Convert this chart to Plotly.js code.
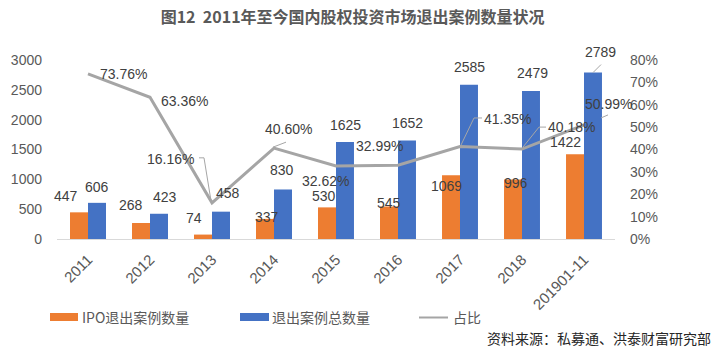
<!DOCTYPE html>
<html>
<head>
<meta charset="utf-8">
<script src="https://cdn.plot.ly/plotly-3.0.1.min.js"></script>
<style>html,body{margin:0;padding:0;background:#fff;}#chart{width:721px;height:348px;}</style>
</head>
<body>
<div id="chart"></div>
<script>
// ---- data ----
const categories = ['2011','2012','2013','2014','2015','2016','2017','2018','201901-11'];
const ipoExits   = [447, 268, 74, 337, 530, 545, 1069, 996, 1422];
const totalExits = [606, 423, 458, 830, 1625, 1652, 2585, 2479, 2789];
const ratio      = [0.7376, 0.6336, 0.1616, 0.4060, 0.3262, 0.3299, 0.4135, 0.4018, 0.5099];
const seriesNames = ['IPO退出案例数量', '退出案例总数量', '占比'];
const titleText = '图12  2011年至今国内股权投资市场退出案例数量状况';
const sourceText = '资料来源：私募通、洪泰财富研究部';

// ---- label placement (pixel offsets from each mark, styling only) ----
const ipoLabelShift   = [[-22,16],[-19,18],[-18,17],[-7,2],[-12,11],[-9,3],[-14,-11],[-6,-3],[-19,12]];
const totalLabelShift = [[9,16],[15,17],[16,19],[8,19],[9,17],[9,17],[9,18],[10,18],[16,21]];
const ratioLabelShift = [[35,0],[34,-4],[-42,44],[14,19],[-11,-15],[-19,19],[47,27],[49,22],[24,21]];

const ORANGE = '#ED7D31', BLUE = '#4472C4', GRAY = '#A5A5A5';
const TXT = '#595959', LBL = '#404040';
const FONT = 'Liberation Sans, Noto Sans CJK SC, sans-serif';
const CJK = 'Noto Sans CJK SC, Liberation Sans, sans-serif';

const W = 721, H = 348, L = 57, R = 106, T = 60, B = 109;
const pw = W - L - R, ph = H - T - B;
const px = x => (x - L) / pw;
const py = y => (H - B - y) / ph;

const traces = [
  {type:'bar', name:seriesNames[0], x:categories, y:ipoExits, marker:{color:ORANGE}, hoverinfo:'skip'},
  {type:'bar', name:seriesNames[1], x:categories, y:totalExits, marker:{color:BLUE}, hoverinfo:'skip'},
  {type:'scatter', mode:'lines', name:seriesNames[2], x:categories, y:ratio, yaxis:'y2',
   line:{color:GRAY, width:3}, hoverinfo:'skip'}
];

const annotations = [];
const lblFont = {family:FONT, size:14, color:LBL};
categories.forEach((c,i)=>{
  annotations.push({x:i, y:ipoExits[i], xref:'x', yref:'y', text:String(ipoExits[i]), showarrow:false,
    xshift:ipoLabelShift[i][0], yshift:ipoLabelShift[i][1], font:lblFont, xanchor:'center', yanchor:'middle'});
  annotations.push({x:i, y:totalExits[i], xref:'x', yref:'y', text:String(totalExits[i]), showarrow:false,
    xshift:totalLabelShift[i][0], yshift:totalLabelShift[i][1], font:lblFont, xanchor:'center', yanchor:'middle'});
  annotations.push({x:i, y:ratio[i], xref:'x', yref:'y2', text:(ratio[i]*100).toFixed(2)+'%', showarrow:false,
    xshift:ratioLabelShift[i][0], yshift:ratioLabelShift[i][1], font:lblFont, xanchor:'center', yanchor:'middle'});
});

// legend (drawn manually to match wide swatches)
const legFont = {family:CJK, size:14, color:TXT};
annotations.push({xref:'paper', yref:'paper', x:px(80), y:py(317), text:seriesNames[0], showarrow:false, xanchor:'left', yanchor:'middle', font:legFont});
annotations.push({xref:'paper', yref:'paper', x:px(270), y:py(317), text:seriesNames[1], showarrow:false, xanchor:'left', yanchor:'middle', font:legFont});
annotations.push({xref:'paper', yref:'paper', x:px(451), y:py(317), text:seriesNames[2], showarrow:false, xanchor:'left', yanchor:'middle', font:legFont});
// source
annotations.push({xref:'paper', yref:'paper', x:px(713), y:py(338), text:sourceText, showarrow:false, xanchor:'right', yanchor:'middle',
  font:{family:CJK, size:14, color:'#262626'}});

const shapes = [
  {type:'rect', xref:'paper', yref:'paper', x0:px(50), x1:px(78), y0:py(313), y1:py(321), fillcolor:ORANGE, line:{width:0}},
  {type:'rect', xref:'paper', yref:'paper', x0:px(240), x1:px(269), y0:py(313), y1:py(321), fillcolor:BLUE, line:{width:0}},
  {type:'line', xref:'paper', yref:'paper', x0:px(419), x1:px(448), y0:py(317.5), y1:py(317.5), line:{color:GRAY, width:2}}
];

// leader lines: [category index, axis, anchor value, [[dx0,dy0,dx1,dy1],...]]
const leaders = [
  [2,'y2',ratio[2],[[-13,45,-8,45],[-8,45,-1,2]]],
  [3,'y2',ratio[3],[[-1,1,12,6]]],
  [6,'y2',ratio[6],[[1,1.5,14,28.5],[14,28.5,22,28.5]]],
  [7,'y2',ratio[7],[[1,2,17,22],[17,22,24,22]]],
  [8,'y',totalExits[8],[[9,0,17,8]]],
  [8,'y2',ratio[8],[[17,7,24,10]]]
];
leaders.forEach(([i,ax,v,segs])=>{
  segs.forEach(s=>{
    shapes.push({type:'line', xref:'x', yref:ax, xsizemode:'pixel', ysizemode:'pixel',
      xanchor:i, yanchor:v, x0:s[0], x1:s[2], y0:s[1], y1:s[3], line:{color:'#A6A6A6', width:1}});
  });
});

const layout = {
  width:W, height:H, autosize:false,
  margin:{l:L, r:R, t:T, b:B, pad:0},
  paper_bgcolor:'#fff', plot_bgcolor:'#fff',
  title:{text:'<b>'+titleText+'</b>', x:382/W, xanchor:'center', xref:'paper', y:1-17/H, yanchor:'middle',
    font:{family:CJK, size:16, color:TXT}},
  showlegend:false,
  barmode:'group', bargap:0.42, bargroupgap:0,
  xaxis:{type:'category', categoryarray:categories, categoryorder:'array', range:[-0.5, categories.length-0.5],
    tickangle:-45, showline:true, linecolor:'#D9D9D9', linewidth:1, ticks:'', ticklabelstandoff:5,
    tickfont:{family:FONT, size:15, color:TXT}, showgrid:false, zeroline:false, fixedrange:true},
  yaxis:{range:[0,3000], dtick:500, tick0:0, showgrid:false, zeroline:false, showline:false, ticks:'',
    tickfont:{family:FONT, size:14, color:TXT}, ticklabelstandoff:14, fixedrange:true},
  yaxis2:{overlaying:'y', side:'right', range:[0,0.8], dtick:0.1, tick0:0, tickformat:'.0%',
    showgrid:false, zeroline:false, showline:false, ticks:'',
    tickfont:{family:FONT, size:14, color:TXT}, ticklabelstandoff:14, fixedrange:true},
  annotations:annotations,
  shapes:shapes
};

Plotly.newPlot('chart', traces, layout, {displayModeBar:false, staticPlot:true});
</script>
</body>
</html>
